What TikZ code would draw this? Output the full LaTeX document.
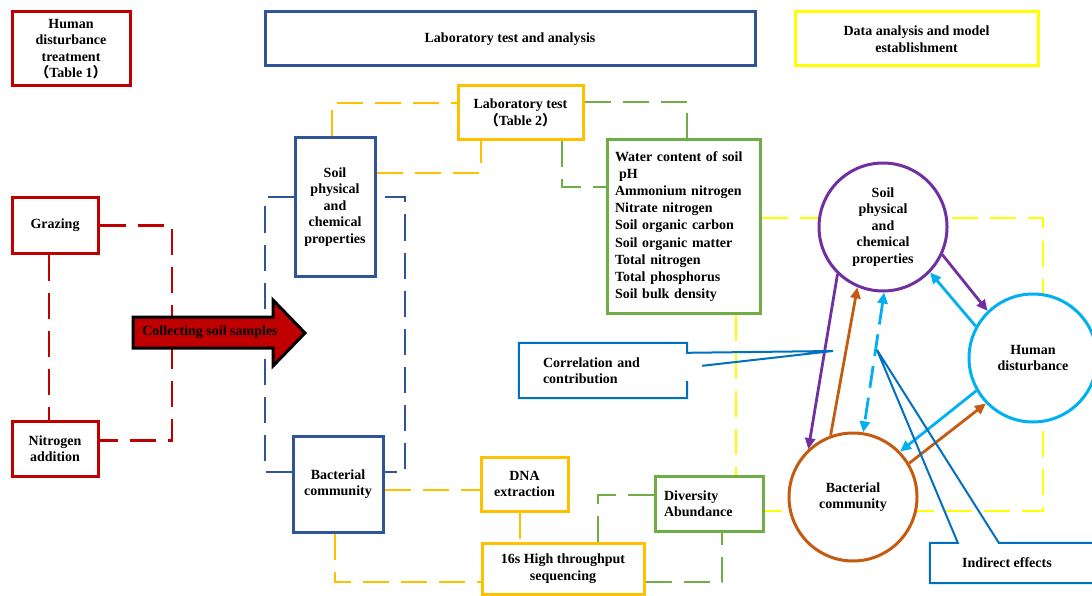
\documentclass[tikz,border=0pt]{standalone}
\usepackage{fontspec}
\setmainfont{Liberation Serif}
\newfontfamily\cjkfont{Noto Sans CJK SC}
\usetikzlibrary{arrows.meta}

\definecolor{boxred}{HTML}{C00000}
\definecolor{boxblue}{HTML}{2F5597}
\definecolor{boxamber}{HTML}{FFC000}
\definecolor{boxgreen}{HTML}{70AD47}
\definecolor{boxyellow}{HTML}{FFFF00}
\definecolor{circpurple}{HTML}{7030A0}
\definecolor{circcyan}{HTML}{00B0F0}
\definecolor{circorange}{HTML}{C55A11}
\definecolor{callblue}{HTML}{0070C0}

\tikzset{
  txt/.style={font=\fontsize{14}{16.5}\selectfont\bfseries},
  box/.style={txt, draw, line width=3pt, fill=white, align=center, inner sep=2pt},
  redbox/.style={box, draw=boxred},
  bluebox/.style={box, draw=boxblue},
  amberbox/.style={box, draw=boxamber},
  greenbox/.style={box, draw=boxgreen},
  yellowbox/.style={box, draw=boxyellow},
  circ/.style={txt, circle, draw, line width=3pt, fill=white, align=center,
    inner sep=0pt, minimum size=128pt},
  link/.style={line width=2.8pt, dash pattern=on 26pt off 12pt},
  hd/.tip={Triangle[length=11pt,width=10pt]},
  circarrow/.style={line width=2.8pt, -hd},
  callline/.style={draw=callblue, line width=2pt},
}

\begin{document}
\begin{tikzpicture}[x=1pt,y=-1pt]
\useasboundingbox (0,0) rectangle (1092,596);

% Header boxes
\node[redbox,minimum width=118pt,minimum height=74pt] (treat) at (71,49)
  {Human\\disturbance\\treatment\\{\cjkfont （}Table 1{\cjkfont ）}};
\node[bluebox,minimum width=490pt,minimum height=54pt] (labana) at (510,39)
  {Laboratory test and analysis};
\node[yellowbox,minimum width=243pt,minimum height=54pt] (datmod) at (916.5,39)
  {Data analysis and model\\establishment};

% Treatments
\node[redbox,minimum width=86pt,minimum height=55pt] (graz) at (55,225.5) {Grazing};
\node[redbox,minimum width=86pt,minimum height=55pt] (nitro) at (55,448.5) {Nitrogen\\addition};

% Samples
\node[bluebox,minimum width=80pt,minimum height=138pt] (soilb) at (335,207)
  {Soil\\physical\\and\\chemical\\properties};
\node[bluebox,minimum width=90pt,minimum height=96pt] (bactb) at (338,484)
  {Bacterial\\community};

% Laboratory steps
\node[amberbox,minimum width=125pt,minimum height=54pt] (labt) at (520.5,113)
  {Laboratory test\\{\cjkfont （}Table 2{\cjkfont ）}};
\node[greenbox,align=left,text width=137pt,inner xsep=8pt,minimum height=173pt,
  font=\fontsize{14}{17.1}\selectfont\bfseries] (params) at (683.5,226.5)
  {Water content of soil\\\hspace*{4pt}pH\\Ammonium nitrogen\\Nitrate nitrogen\\
   Soil organic carbon\\Soil organic matter\\Total nitrogen\\Total phosphorus\\
   Soil bulk density};
\node[amberbox,minimum width=87pt,minimum height=54pt] (dna) at (524.5,484)
  {DNA\\extraction};
\node[amberbox,minimum width=162pt,minimum height=51pt] (seq) at (563,568.5)
  {16s High throughput\\sequencing};
\node[greenbox,align=left,text width=90pt,inner xsep=9pt,minimum height=55pt] (divb)
  at (709,503.5) {Diversity\\Abundance};

% Red dashed links
\draw[link,boxred] (graz.east) -- (graz.east -| 172,0) -- ([yshift=8pt]nitro.east -| 172,0)
  -- ([yshift=8pt]nitro.east);
\draw[link,boxred] ([xshift=-6pt]graz.south) -- ([xshift=-6pt]nitro.north);

% Blue dashed bracket
\draw[link,boxblue] (soilb.west |- 0,197) -- (265,197) -- (265,472) -- (bactb.west |- 0,472);
\draw[link,boxblue,dash phase=30pt] (soilb.east |- 0,197) -- (405,197) -- (405,472)
  -- (bactb.east |- 0,472);

% Amber dashed links
\draw[link,boxamber] ([xshift=-3pt]soilb.north) |- ([yshift=10pt]labt.west);
\draw[link,boxamber] ([yshift=34pt]soilb.east) -| ([xshift=-39.5pt]labt.south);
\draw[link,boxamber] ([yshift=-6pt]bactb.east) -- ([yshift=-6pt]dna.west);
\draw[link,boxamber] ([xshift=-4.5pt]dna.south) -- ([xshift=-4.5pt]dna.south |- seq.north);
\draw[link,boxamber] ([xshift=-3pt]bactb.south) |- ([yshift=-13.5pt]seq.west);

% Green dashed links
\draw[link,boxgreen] ([yshift=11pt]labt.east) -| ([xshift=3.5pt]params.north);
\draw[link,boxgreen] ([xshift=41.5pt]labt.south) |- ([yshift=39.5pt]params.west);
\draw[link,boxgreen] ([xshift=35pt]seq.north) |- ([yshift=8.5pt]divb.west);
\draw[link,boxgreen] ([yshift=-13.5pt]seq.east) -| ([xshift=13pt]divb.south);

% Yellow dashed frame
\coordinate (frametop) at (1043,218);
\coordinate (framebot) at (1043,511);
\draw[link,boxyellow] ([yshift=8.5pt]params.east) -- (frametop) -- (framebot)
  -- ([yshift=-7.5pt]divb.east);
\draw[link,boxyellow] ([xshift=52.5pt]params.south) -- ([xshift=52.5pt]params.south |- divb.north);

% Model circles
\node[circ,draw=circpurple] (soilc) at (883,227) {Soil\\physical\\and\\chemical\\properties};
\node[circ,draw=circcyan] (humc) at (1033,358) {Human\\disturbance};
\node[circ,draw=circorange] (bacc) at (853,497) {Bacterial\\community};

% Effects between circles
\foreach \a/\b/\c in {soilc.226/bacc.133/circpurple, bacc.110/soilc.247/circorange,
  soilc.335/humc.134/circpurple, humc.151/soilc.316/circcyan,
  humc.210/bacc.44/circcyan, bacc.31/humc.224/circorange}
  \draw[circarrow,draw=\c,fill=\c] (\a) -- (\b);
\draw[line width=2.8pt,hd-hd,circcyan,dash pattern=on 22pt off 10pt] (soilc.271) -- (bacc.81);

% Callouts
\node[txt,align=left,text width=120pt,inner xsep=24pt,minimum height=55pt] (corr)
  at (603,370.5) {Correlation and\\contribution};
\coordinate (corrtip) at (833,351);
\draw[callline] ([yshift=17pt]corr.south east) -- (corr.south east) -- (corr.south west)
  -- (corr.north west) -- (corr.north east) -- ([yshift=-10pt]corr.north east) -- (corrtip)
  -- ([xshift=15pt,yshift=-23pt]corr.north east);
\node[txt,minimum width=154pt,minimum height=40pt] (ind) at (1007,563) {Indirect effects};
\coordinate (indtip) at (877,350);
\draw[callline] ([xshift=20pt]ind.south east) -- (ind.south west) -- (ind.north west)
  -- ([xshift=28pt]ind.north west) -- (indtip) -- ([xshift=69pt]ind.north west)
  -- ([xshift=20pt]ind.north east);

% Sampling arrow
\draw[fill=boxred,draw=black,line width=3pt] (133,317) -- (273,317) -- (273,300) -- (305,333)
  -- (273,366) -- (273,348) -- (133,348) -- cycle;
\node[txt] (collect) at (210,332) {Collecting soil samples};
\end{tikzpicture}
\end{document}
